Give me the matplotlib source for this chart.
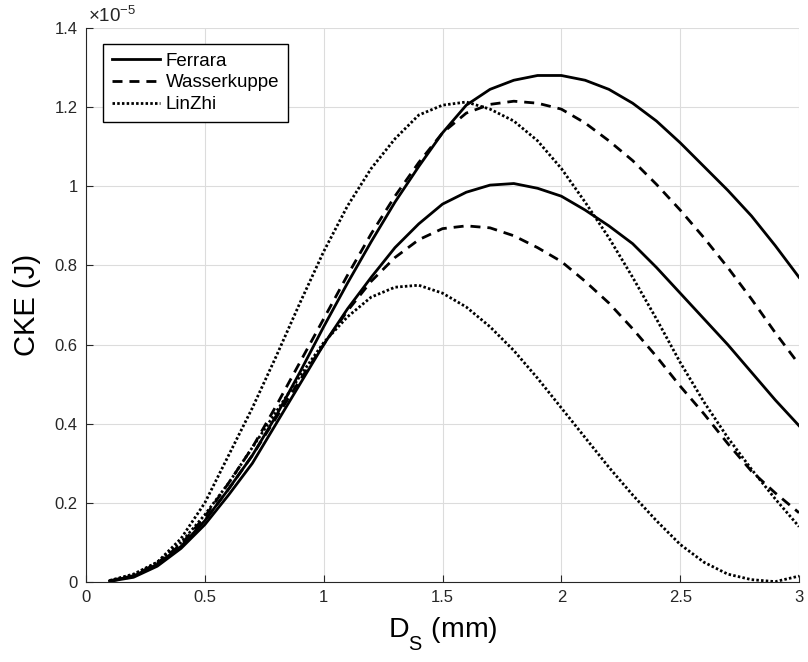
import matplotlib
matplotlib.use("Agg")
import matplotlib.pyplot as plt
import matplotlib._mathtext as mathtext_internal
import numpy as np
from matplotlib.ticker import FuncFormatter

plt.rcParams["font.family"] = ["Liberation Sans", "DejaVu Sans"]
plt.rcParams["mathtext.fontset"] = "custom"
plt.rcParams["mathtext.rm"] = "Liberation Sans"
plt.rcParams["mathtext.it"] = "Liberation Sans:italic"
# MATLAB drops subscripts lower than mathtext does
mathtext_internal.FontConstantsBase.sub1 = 0.9

# drop diameter (mm)
ds = [0.1, 0.2, 0.3, 0.4, 0.5, 0.6, 0.7, 0.8, 0.9, 1.0,
      1.1, 1.2, 1.3, 1.4, 1.5, 1.6, 1.7, 1.8, 1.9, 2.0,
      2.1, 2.2, 2.3, 2.4, 2.5, 2.6, 2.7, 2.8, 2.9, 3.0]

# CKE in units of 1e-5 J, two curves per site
ferrara_hi = [0.003, 0.015, 0.045, 0.09, 0.155, 0.235, 0.32, 0.42, 0.53, 0.645,
              0.755, 0.86, 0.96, 1.05, 1.135, 1.205, 1.245, 1.268, 1.28, 1.28,
              1.268, 1.245, 1.21, 1.165, 1.11, 1.05, 0.99, 0.925, 0.85, 0.77]
ferrara_lo = [0.002, 0.012, 0.04, 0.085, 0.145, 0.22, 0.30, 0.40, 0.50, 0.60,
              0.69, 0.77, 0.845, 0.905, 0.955, 0.985, 1.003, 1.007, 0.995, 0.975,
              0.94, 0.90, 0.855, 0.795, 0.73, 0.665, 0.60, 0.53, 0.46, 0.395]
wasser_hi = [0.003, 0.016, 0.048, 0.095, 0.165, 0.25, 0.34, 0.445, 0.555, 0.665,
             0.775, 0.88, 0.975, 1.06, 1.135, 1.185, 1.207, 1.215, 1.21, 1.195,
             1.16, 1.115, 1.065, 1.005, 0.94, 0.87, 0.795, 0.715, 0.63, 0.55]
wasser_lo = [0.002, 0.014, 0.043, 0.09, 0.155, 0.235, 0.32, 0.415, 0.51, 0.60,
             0.685, 0.76, 0.82, 0.865, 0.893, 0.90, 0.895, 0.875, 0.845, 0.81,
             0.76, 0.705, 0.64, 0.57, 0.495, 0.425, 0.35, 0.28, 0.225, 0.175]
linzhi_hi = [0.004, 0.02, 0.05, 0.11, 0.2, 0.32, 0.44, 0.57, 0.705, 0.835,
             0.95, 1.045, 1.12, 1.18, 1.205, 1.213, 1.195, 1.165, 1.115, 1.045,
             0.96, 0.87, 0.77, 0.665, 0.555, 0.455, 0.365, 0.285, 0.21, 0.14]
linzhi_lo = [0.003, 0.018, 0.05, 0.1, 0.17, 0.25, 0.34, 0.43, 0.52, 0.605,
             0.67, 0.72, 0.745, 0.75, 0.73, 0.695, 0.645, 0.585, 0.515, 0.44,
             0.365, 0.29, 0.22, 0.155, 0.095, 0.05, 0.02, 0.006, 0.001, 0.015]

xticks = [0, 0.5, 1, 1.5, 2, 2.5, 3]
yticks = [0, 0.2, 0.4, 0.6, 0.8, 1.0, 1.2, 1.4]

dash = (3.6, 2.5)
dot = (0.9, 0.8)

fig = plt.figure(figsize=(8.08, 6.62), dpi=100)
ax = fig.add_axes([0.1064, 0.1208, 0.8825, 0.8369])

lw = 2.0
ax.plot(ds, ferrara_hi, color="black", lw=lw, label="Ferrara")
ax.plot(ds, wasser_hi, color="black", lw=lw, dashes=dash, label="Wasserkuppe")
ax.plot(ds, linzhi_hi, color="black", lw=lw, dashes=dot, label="LinZhi")
ax.plot(ds, ferrara_lo, color="black", lw=lw)
ax.plot(ds, wasser_lo, color="black", lw=lw, dashes=dash)
ax.plot(ds, linzhi_lo, color="black", lw=lw, dashes=dot)

ax.set_xlim(0, 3)
ax.set_ylim(0, 1.4)
ax.set_xticks(xticks)
ax.set_yticks(yticks)
ax.xaxis.set_major_formatter(FuncFormatter(lambda v, p: "%g" % v))
ax.yaxis.set_major_formatter(FuncFormatter(lambda v, p: "%g" % v))
ax.tick_params(direction="in", length=5, width=0.8, labelsize=12,
               colors="#262626", pad=6)
ax.grid(True, color="#dcdcdc", lw=0.8)
ax.set_axisbelow(True)
for s in ("top", "right"):
    ax.spines[s].set_visible(False)
for s in ("left", "bottom"):
    ax.spines[s].set_color("#262626")
    ax.spines[s].set_linewidth(0.8)

ax.set_xlabel(r"D$_\mathrm{S}$ (mm)", fontsize=20.5, labelpad=7)
ax.set_ylabel("CKE (J)", fontsize=21, labelpad=10)
ax.text(0.003, 1.004, r"$\times10^{-5}$", transform=ax.transAxes,
        fontsize=13.5, color="#262626", va="bottom", ha="left")

leg = ax.legend(loc="upper left", bbox_to_anchor=(0.024, 0.971),
                borderaxespad=0, fancybox=False, fontsize=13.5,
                handlelength=2.6, handletextpad=0.3, labelspacing=0.25,
                borderpad=0.45, framealpha=1)
leg.get_frame().set_edgecolor("black")
leg.get_frame().set_linewidth(1.0)

fig.savefig("out.png", dpi=100)
